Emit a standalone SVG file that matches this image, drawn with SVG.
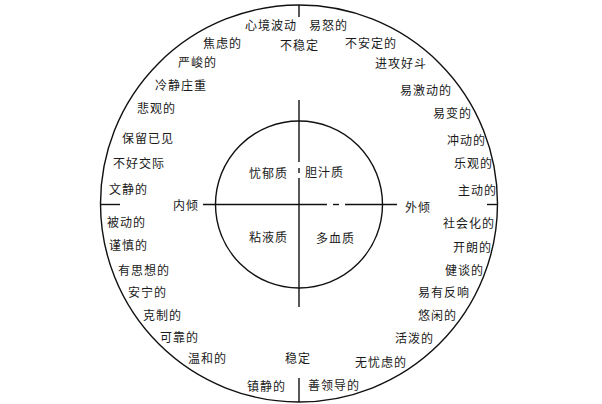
<svg xmlns="http://www.w3.org/2000/svg" width="602" height="404" viewBox="0 0 602 404">
<style>
.ln{stroke:#111;stroke-width:1.4;fill:none}
text{font-family:"Noto Sans CJK SC","Noto Sans",sans-serif;font-size:12px;letter-spacing:1px;fill:#1a1a1a}
</style>
<rect width="602" height="404" fill="#fff"/>
<g id="connectors">
<circle class="ln" cx="299" cy="203.5" r="198.5"/>
<circle class="ln" cx="299" cy="204.5" r="83.5"/>
<line class="ln" x1="299" y1="5" x2="299" y2="17"/>
<line class="ln" x1="299" y1="378" x2="299" y2="402"/>
<line class="ln" x1="100" y1="204.5" x2="120" y2="204.5"/>
<line class="ln" x1="487" y1="204.5" x2="498" y2="204.5"/>
<line class="ln" x1="299" y1="100" x2="299" y2="162"/>
<line class="ln" x1="299" y1="168" x2="299" y2="173"/>
<line class="ln" x1="299" y1="178" x2="299" y2="307"/>
<line class="ln" x1="203" y1="204.5" x2="327" y2="204.5"/>
<line class="ln" x1="333" y1="204.5" x2="339" y2="204.5"/>
<line class="ln" x1="345" y1="204.5" x2="397" y2="204.5"/>
</g>
<g id="quadrants">
<text x="249" y="178">忧郁质</text>
<text x="305" y="177">胆汁质</text>
<text x="249" y="242">粘液质</text>
<text x="316" y="243">多血质</text>
</g>
<g id="axes">
<text x="173" y="210">内倾</text>
<text x="405" y="212">外倾</text>
<text x="280" y="50">不稳定</text>
<text x="285" y="363">稳定</text>
</g>
<g id="outer-labels">
<text x="245" y="30">心境波动</text>
<text x="309" y="30">易怒的</text>
<text x="203" y="48">焦虑的</text>
<text x="345" y="48">不安定的</text>
<text x="178" y="67">严峻的</text>
<text x="375" y="68">进攻好斗</text>
<text x="155" y="90">冷静庄重</text>
<text x="400" y="95">易激动的</text>
<text x="137" y="113">悲观的</text>
<text x="433" y="118">易变的</text>
<text x="122" y="143">保留已见</text>
<text x="447" y="145">冲动的</text>
<text x="113" y="168">不好交际</text>
<text x="454" y="168">乐观的</text>
<text x="109" y="194">文静的</text>
<text x="458" y="195">主动的</text>
<text x="107" y="227">被动的</text>
<text x="443" y="228">社会化的</text>
<text x="109" y="250">谨慎的</text>
<text x="453" y="252">开朗的</text>
<text x="118" y="275">有思想的</text>
<text x="445" y="275">健谈的</text>
<text x="128" y="297">安宁的</text>
<text x="418" y="297">易有反响</text>
<text x="143" y="320">克制的</text>
<text x="418" y="320">悠闲的</text>
<text x="160" y="342">可靠的</text>
<text x="395" y="343">活泼的</text>
<text x="188" y="363">温和的</text>
<text x="355" y="367">无忧虑的</text>
<text x="247" y="391">镇静的</text>
<text x="308" y="390">善领导的</text>
</g>
</svg>
